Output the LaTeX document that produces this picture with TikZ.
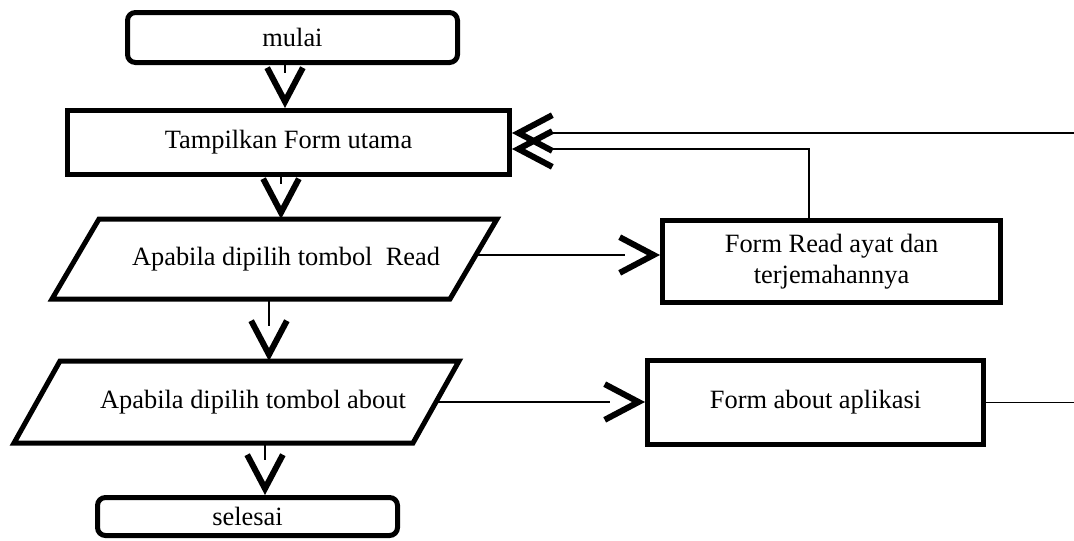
\documentclass[tikz,border=0pt]{standalone}
\usepackage{fontspec}
\setmainfont{Liberation Serif}
\usetikzlibrary{arrows.meta}
\pgfdeclarearrow{
  name = FatV,
  setup code = {
    \pgfarrowssettipend{0pt}
    \pgfarrowssetbackend{-42pt}
    \pgfarrowssetvisualbackend{-42pt}
    \pgfarrowssetlineend{-35pt}
    \pgfarrowsupperhullpoint{-42pt}{21pt}
    \pgfarrowsupperhullpoint{0pt}{0pt}
  },
  drawing code = {
    \pgfpathmoveto{\pgfqpoint{0pt}{0pt}}
    \pgfpathlineto{\pgfqpoint{-38.9pt}{20.5pt}}
    \pgfpathlineto{\pgfqpoint{-41.7pt}{15.2pt}}
    \pgfpathlineto{\pgfqpoint{-12.9pt}{0pt}}
    \pgfpathlineto{\pgfqpoint{-41.7pt}{-15.2pt}}
    \pgfpathlineto{\pgfqpoint{-38.9pt}{-20.5pt}}
    \pgfpathclose
    \pgfusepathqfill
  }
}
\begin{document}
\begin{tikzpicture}[x=1pt,y=-1pt,
  every node/.style={font=\fontsize{26.4}{31}\selectfont, inner sep=0pt},
  term/.style={draw, line width=5pt, rounded corners=8pt},
  proc/.style={draw, line width=5pt, align=center},
  paratext/.style={outer sep=0pt},
  para/.style={draw, line width=5pt, line join=miter},
  conn/.style={line width=1.2pt, -FatV},
  plain/.style={line width=1.2pt},
]
\fill[white] (0,0) rectangle (1074,541);
\useasboundingbox (0,0) rectangle (1074,541);

% nodes
\node[term, minimum width=330pt, minimum height=50pt] (mulai) at (292.5,37.5) {mulai};
\node[proc, minimum width=442pt, minimum height=64pt] (tamp) at (288.5,142.5) {Tampilkan Form utama};
\node[paratext, minimum width=398pt, minimum height=80pt] (read) at (274.5,259) {\hspace*{23pt}Apabila dipilih tombol\ \ Read};
\draw[para] ([xshift=23.5pt]read.north west) -- ([xshift=23.5pt]read.north east)
  -- ([xshift=-23.5pt]read.south east) -- ([xshift=-23.5pt]read.south west) -- cycle;
\node[proc, minimum width=338pt, minimum height=82pt] (fr) at (831.5,261.5) {Form Read ayat dan\\terjemahannya};
\node[paratext, minimum width=399pt, minimum height=82pt] (about) at (236.5,402) {\hspace*{33pt}Apabila dipilih tombol about};
\draw[para] ([xshift=23pt]about.north west) -- ([xshift=23pt]about.north east)
  -- ([xshift=-23pt]about.south east) -- ([xshift=-23pt]about.south west) -- cycle;
\node[proc, minimum width=336pt, minimum height=84pt] (fa) at (815.5,402.5) {Form about aplikasi};
\node[term, minimum width=300pt, minimum height=38pt] (selesai) at (247.5,516.5) {selesai};

% connectors
\draw[conn] ([xshift=-7.5pt]mulai.south) -- ([xshift=-7.5pt]mulai.south |- tamp.north);
\draw[conn] ([xshift=-7.5pt]tamp.south) -- ([xshift=-7.5pt]tamp.south |- read.north);
\draw[conn] ([xshift=-5.5pt]read.south) -- ([xshift=-5.5pt]read.south |- about.north);
\draw[conn] ([xshift=17.5pt]selesai.north |- about.south) -- ([xshift=17.5pt]selesai.north);
\draw[conn] ([yshift=4pt]read.east) -- ([yshift=4pt]read.east -| fr.west);
\draw[conn] (about.east) -- (about.east -| fa.west);
\draw[conn] ([xshift=-22.5pt]fr.north) |- ([yshift=-6.5pt]tamp.east);
\coordinate (rlow) at (1074,402.5);
\coordinate (rhigh) at (1074,133);
\draw[plain] (fa.east) -- (rlow);
\draw[conn] (rhigh) -- (rhigh -| tamp.east);
\end{tikzpicture}
\end{document}
